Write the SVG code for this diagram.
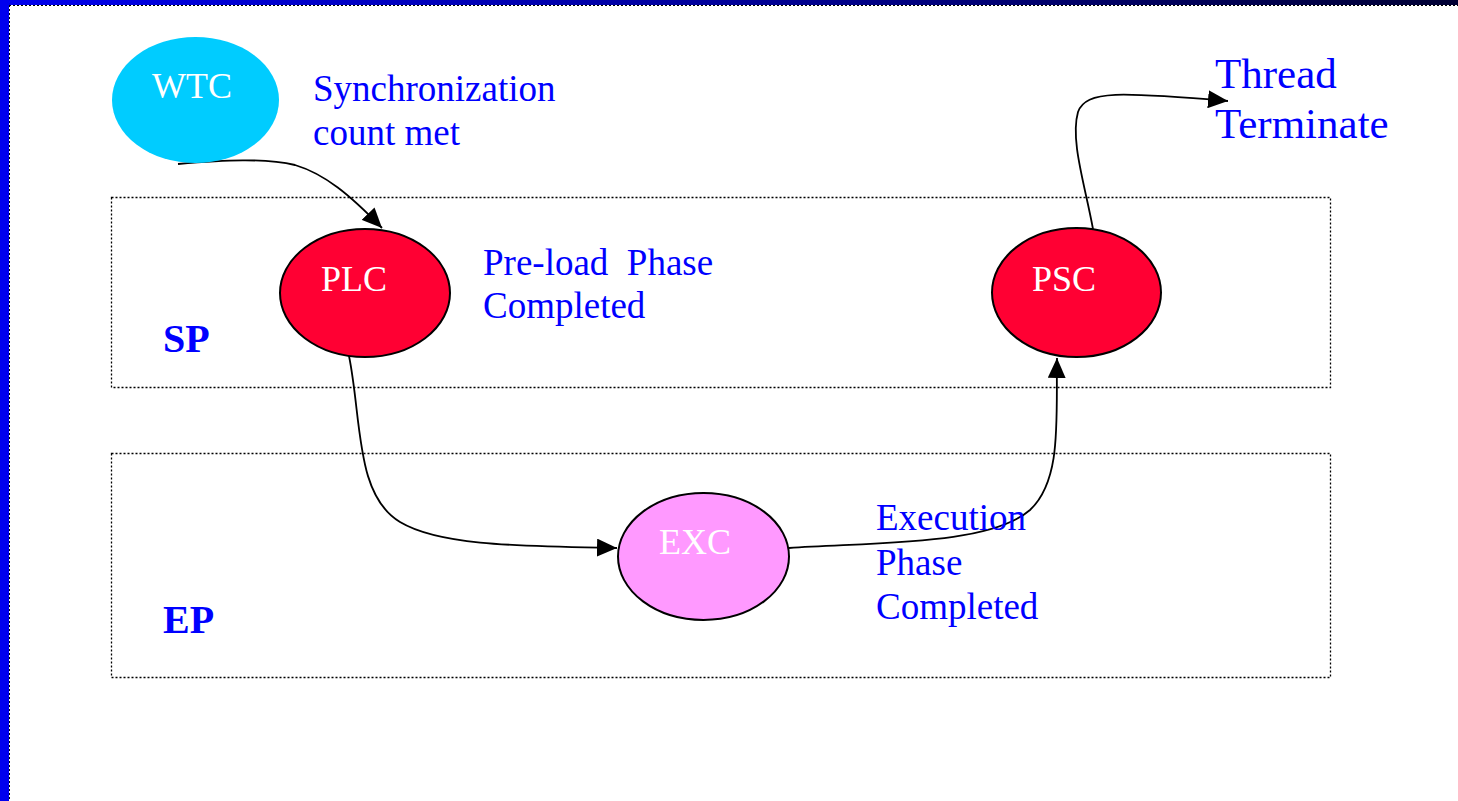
<svg xmlns="http://www.w3.org/2000/svg" width="1458" height="801" viewBox="0 0 1458 801">
<defs>
<linearGradient id="topg" x1="0" y1="0" x2="1" y2="0">
<stop offset="0" stop-color="#0000EE"/>
<stop offset="0.5" stop-color="#000099"/>
<stop offset="1" stop-color="#000033"/>
</linearGradient>
<marker id="arr" markerUnits="userSpaceOnUse" markerWidth="22" markerHeight="18" refX="20" refY="9" orient="auto">
<path d="M0,0 L20,9 L0,18 Z" fill="#000"/>
</marker>
<style>
.lbl{font-family:"Liberation Serif","Times New Roman",serif;fill:#0000FF;font-size:37px}
.node{font-family:"Liberation Serif","Times New Roman",serif;fill:#FFFFFF;font-size:36px;text-anchor:middle}
.big{font-family:"Liberation Serif","Times New Roman",serif;fill:#0000FF;font-size:43px}
.bold{font-family:"Liberation Serif","Times New Roman",serif;fill:#0000FF;font-size:40px;font-weight:bold}
.box{fill:none;stroke:#000;stroke-width:1.3;stroke-dasharray:2 2}
.edge{fill:none;stroke:#000;stroke-width:1.8;marker-end:url(#arr)}
.ell{stroke:#000;stroke-width:2}
</style>
</defs>
<rect width="1458" height="801" fill="#FFFFFF"/>
<rect x="0" y="0" width="1458" height="5" fill="url(#topg)"/>
<rect x="0" y="0" width="9" height="801" fill="#0000EE"/>
<line x1="9.5" y1="5" x2="9.5" y2="801" stroke="#000" stroke-width="1" stroke-dasharray="2 2"/>
<line x1="9" y1="5.5" x2="1458" y2="5.5" stroke="#000" stroke-width="1" stroke-dasharray="2 2"/>
<g id="lanes">
<rect id="lane-sp" class="box" x="111.5" y="197.5" width="1219" height="190"/>
<rect id="lane-ep" class="box" x="111.5" y="453.5" width="1219" height="224"/>
<text class="bold" x="163" y="352">SP</text>
<text class="bold" x="163" y="633">EP</text>
</g>
<g id="connectors">
<path class="edge" d="M178,164 C225,160 265,158 295,165 C325,174 350,195 382,228"/>
<path class="edge" d="M349,356 C362,420 355,495 400,522 C440,546 520,546 617,548"/>
<path class="edge" d="M789,548 C880,542 990,545 1030,510 C1062,480 1056,420 1057,358"/>
<path class="edge" d="M1093,229 C1085,185 1070,140 1078,112 C1086,90 1120,92 1228,101"/>
</g>
<g id="node-wtc">
<ellipse cx="195.5" cy="100" rx="83.5" ry="63" fill="#00CCFF"/>
<text class="node" x="192" y="98">WTC</text>
</g>
<g id="node-plc">
<ellipse class="ell" cx="365" cy="293" rx="85" ry="64" fill="#FF0033"/>
<text class="node" x="354" y="291">PLC</text>
</g>
<g id="node-psc">
<ellipse class="ell" cx="1076.5" cy="292.5" rx="84.5" ry="64.5" fill="#FF0033"/>
<text class="node" x="1064" y="291">PSC</text>
</g>
<g id="node-exc">
<ellipse class="ell" cx="703.5" cy="556.5" rx="85.5" ry="63.5" fill="#FF99FF"/>
<text class="node" x="695" y="554">EXC</text>
</g>
<g id="labels">
<text class="lbl" x="313" y="101">Synchronization</text>
<text class="lbl" x="313" y="145">count met</text>
<text class="lbl" x="483" y="275" xml:space="preserve">Pre-load  Phase</text>
<text class="lbl" x="483" y="318">Completed</text>
<text class="lbl" x="876" y="530">Execution</text>
<text class="lbl" x="876" y="575">Phase</text>
<text class="lbl" x="876" y="619">Completed</text>
<text class="big" x="1215" y="88">Thread</text>
<text class="big" x="1215" y="138">Terminate</text>
</g>
</svg>
